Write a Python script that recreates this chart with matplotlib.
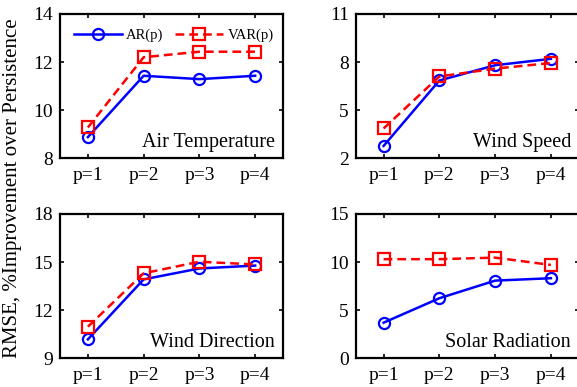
import matplotlib.pyplot as plt

plt.rcParams['font.family'] = ['Liberation Serif', 'DejaVu Serif']
plt.rcParams['mathtext.fontset'] = 'stix'

# data
orders = [1, 2, 3, 4]
order_labels = ['p=1', 'p=2', 'p=3', 'p=4']

air_ar = [8.88, 11.43, 11.29, 11.43]
air_var = [9.28, 12.2, 12.43, 12.43]
speed_ar = [2.77, 6.85, 7.8, 8.2]
speed_var = [3.86, 7.1, 7.59, 7.94]
dir_ar = [10.18, 13.92, 14.6, 14.78]
dir_var = [10.97, 14.3, 15.02, 14.85]
solar_ar = [3.7, 6.24, 8.07, 8.32]
solar_var = [10.3, 10.3, 10.46, 9.7]

panels = [
    ('Air Temperature', air_ar, air_var, (8, 14), [8, 10, 12, 14]),
    ('Wind Speed', speed_ar, speed_var, (2, 11), [2, 5, 8, 11]),
    ('Wind Direction', dir_ar, dir_var, (9, 18), [9, 12, 15, 18]),
    ('Solar Radiation', solar_ar, solar_var, (0, 15), [0, 5, 10, 15]),
]

fig = plt.figure(figsize=(5.77, 3.87), dpi=100)
positions = [
    [0.104, 0.591, 0.3865, 0.373],
    [0.6165, 0.591, 0.3865, 0.373],
    [0.104, 0.0742, 0.3865, 0.373],
    [0.6165, 0.0742, 0.3865, 0.373],
]

for i, (name, ar, var, ylim, yticks) in enumerate(panels):
    ax = fig.add_axes(positions[i])
    ax.plot(orders, ar, color='blue', lw=1.8, marker='o', ms=8,
            mfc='none', mew=1.6, label='AR(p)')
    ax.plot(orders, var, color='red', lw=1.8, ls='--', dashes=(3.5, 2),
            marker='s', ms=8, mfc='none', mew=1.6, label='VAR(p)')
    ax.set_xlim(0.5, 4.5)
    ax.set_ylim(*ylim)
    ax.set_yticks(yticks)
    ax.set_xticks(orders)
    ax.set_xticklabels(order_labels)
    ax.tick_params(direction='in', length=3, width=1.2, top=True,
                   right=True, labelsize=14)
    ax.tick_params(axis='y', pad=5)
    ax.tick_params(axis='x', pad=6)
    for s in ax.spines.values():
        s.set_linewidth(1.6)
    ax.text(0.965, 0.08, name, transform=ax.transAxes, ha='right',
            va='baseline', fontsize=14.5)
    if i == 0:
        ax.legend(loc='upper center', bbox_to_anchor=(0.51, 0.99), ncol=2,
                  frameon=False, fontsize=10.5, handlelength=3.3,
                  columnspacing=0.8, handletextpad=0.3)

fig.text(0.021, 0.515, 'RMSE, %Improvement over Persistence', rotation=90,
         ha='center', va='center', fontsize=15)

plt.savefig('out.png', dpi=100)
